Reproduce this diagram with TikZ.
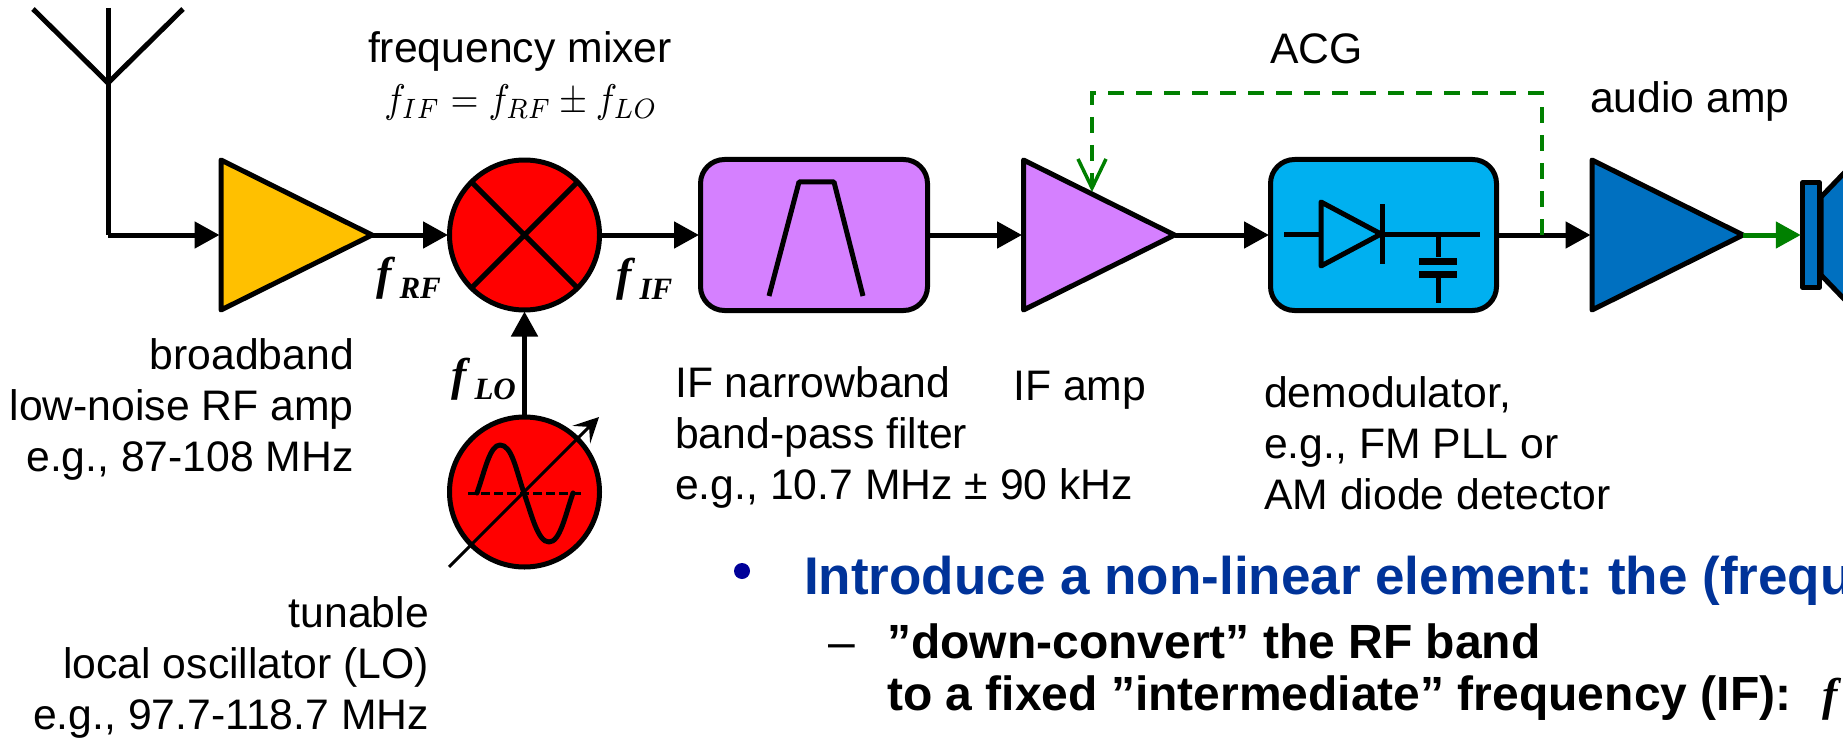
\documentclass[tikz,border=0pt]{standalone}
\usepackage{graphicx}
\usepackage{fontspec}
\setmainfont{Liberation Sans}
\newfontfamily\bserif{Liberation Serif}
\usetikzlibrary{arrows.meta,shapes.geometric}
\definecolor{ampyellow}{HTML}{FFC000}
\definecolor{ifpurple}{HTML}{D580FF}
\definecolor{demodblue}{HTML}{00B0F0}
\definecolor{audioblue}{HTML}{0070C0}
\definecolor{agcgreen}{HTML}{008000}
\definecolor{headblue}{HTML}{003399}
\definecolor{bulletblue}{HTML}{000099}
\frenchspacing
\newcommand{\bsym}[2]{{\bserif\bfseries\itshape\fontsize{46}{46}\selectfont #1\kern8pt\raisebox{-9pt}{\fontsize{31}{31}\selectfont #2}}}
\newcommand{\nmath}[1]{\scalebox{3.6}[4.0]{\begingroup\fontsize{10}{12}\selectfont$#1$\endgroup}}
\tikzset{
  blk/.style={draw=black,line width=5pt,line join=round,inner sep=0pt,outer sep=0pt},
  tri/.style={blk,isosceles triangle,isosceles triangle stretches,shape border rotate=0,minimum width=150pt,minimum height=151pt,anchor=lower side},
  roundbox/.style={blk,rounded corners=24pt,minimum height=151pt},
  circ/.style={blk,circle,minimum size=150pt,fill=red},
  conn/.style={line width=5pt,shorten >=1.5pt,-{Triangle[length=25pt,width=26pt]}},
  sig/.style={line width=5pt,line join=round},
  lab/.style={inner sep=0pt,font=\fontsize{42.7}{50.7}\selectfont},
  mlab/.style={inner sep=0pt,anchor=base west},
  head/.style={inner sep=0pt,anchor=base west,text=headblue,font=\fontsize{53}{60}\selectfont\bfseries},
  sub/.style={inner sep=0pt,font=\fontsize{48}{52}\selectfont\bfseries},
}
\begin{document}
\begin{tikzpicture}[x=1pt,y=-1pt]
\fill[white] (0,0) rectangle (1843,738);
\clip (0,0) rectangle (1843,738);
\useasboundingbox (0,0) rectangle (1843,738);
% antenna
\coordinate (anttop) at (108,83);
\coordinate (antbot) at (108,235);
\coordinate (antmid) at (108,8);
\draw[sig] (33,9) -- (anttop) -- (183,9);
\draw[sig,line cap=butt] (antmid) -- (anttop) -- (antbot);
% blocks
\node[tri,fill=ampyellow] (rfamp) at (221,235) {};
\node[circ] (mixer) at (524.5,235) {};
\draw[sig] (mixer.north west) -- (mixer.south east) (mixer.north east) -- (mixer.south west);
\node[roundbox,fill=ifpurple,minimum width=227pt] (filter) at (814,235) {};
\draw[sig] (769,296) -- (799,182) -- (834,182) -- (863,296);
\node[tri,fill=ifpurple] (ifamp) at (1023.5,235) {};
\node[roundbox,fill=demodblue,minimum width=226pt] (demod) at (1383.5,235) {};
\node[tri,fill=audioblue] (audio) at (1592,235) {};
% demodulator symbol
\draw[sig] (1284,234) -- (1321,234);
\draw[sig] (1321,202) -- (1321,266) -- (1381,234) -- cycle;
\draw[sig] (1382,204) -- (1382,264);
\draw[sig] (1382,234) -- (1480,234);
\draw[sig] (1438,234) -- (1438,257);
\draw[line width=7pt] (1419,261) -- (1457,261);
\draw[line width=7pt] (1419,274) -- (1457,274);
\draw[sig] (1438,274) -- (1438,303);
% speaker
\fill[audioblue,draw=black,line width=5pt,line join=round] (1821,197) -- (1870,146) -- (1870,326) -- (1821,275) -- cycle;
\node[blk,fill=audioblue,minimum width=16.5pt,minimum height=105pt] (spk) at (1811,235) {};
% LO
\node[circ] (lo) at (524.5,492) {};
\draw[line width=3pt,dash pattern=on 9pt off 4pt] (468,493) -- (581,493);
\draw[sig,line cap=round] (477,493) .. controls (485,470) and (490,445) .. (500,445) .. controls (512,445) and (516,470) .. (524,493) .. controls (532,516) and (538,542) .. (549,542) .. controls (560,542) and (565,516) .. (573,493);
\coordinate (tunefrom) at (449,567);
\coordinate (tuneto) at (599,417);
\draw[line width=3pt,-{Stealth[length=25pt,width=25pt,inset=11pt]}] (tunefrom) -- (tuneto);
% connectors
\draw[conn] (antbot) -- (rfamp.lower side);
\draw[conn] (rfamp.apex) -- (mixer.west);
\draw[conn] (mixer.east) -- (filter.west);
\draw[conn] (filter.east) -- (ifamp.lower side);
\draw[conn] (ifamp.apex) -- (demod.west);
\draw[conn] (demod.east) -- (audio.lower side);
\draw[conn] (lo.north) -- (mixer.south);
\draw[conn,color=agcgreen,shorten >=2pt] (audio.apex) -- (spk.west);
\coordinate (agcstart) at (1542,235);
\coordinate (agcend) at (1092,192);
\draw[agcgreen,line width=4pt,dash pattern=on 16pt off 12pt,-{Straight Barb[length=29pt,width=28pt,line width=3.5pt]}] (agcstart) -- (1542,93) -- (1092,93) -- (agcend);
% labels
\node[lab,anchor=base] (mixlab) at (520,62.5) {frequency mixer};
\node[mlab,anchor=base] (mixeq) at (521,113) {\nmath{f_{IF}=f_{RF}\pm f_{LO}}};
\node[lab,anchor=base west] (agclab) at (1270,64) {ACG};
\node[lab,anchor=base west] (audlab) at (1590,113) {audio amp};
\node[mlab] (frf) at (376,289) {\bsym{f}{RF}};
\node[mlab] (fif) at (616,290) {\bsym{f}{IF}};
\node[mlab] (flo) at (451,390) {\bsym{f}{LO}};
\node[lab,anchor=base east,align=right] (rflab) at (354,471) {broadband\\low-noise RF amp\\e.g., 87-108 MHz};
\node[lab,anchor=base east,align=right] (lolab) at (429,729) {tunable\\local oscillator (LO)\\e.g., 97.7-118.7 MHz};
\node[lab,anchor=base west,align=left] (filtlab) at (675,499) {IF narrowband\\band-pass filter\\e.g., 10.7 MHz ± 90 kHz};
\node[lab,anchor=base west] (iflab) at (1013,400) {IF amp};
\node[lab,anchor=base west,align=left] (demlab) at (1264,509) {demodulator,\\e.g., FM PLL or\\AM diode detector};
% bullets
\node[circle,fill=bulletblue,inner sep=0pt,minimum width=16pt] (bul) at (742,571) {};
\node[head] (headline) at (804,594) {Introduce a non-linear element: the (frequ};
\node[sub,anchor=base west,font=\fontsize{48}{52}\selectfont] (dash) at (828,658) {–};
\node[sub,anchor=base west,align=left] (sublab) at (887,710) {”down-convert” the RF band\\to a fixed ”intermediate” frequency (IF):};
\node[mlab] (lastf) at (1822,710) {{\bserif\bfseries\itshape\fontsize{46}{46}\selectfont f}};
\end{tikzpicture}
\end{document}
